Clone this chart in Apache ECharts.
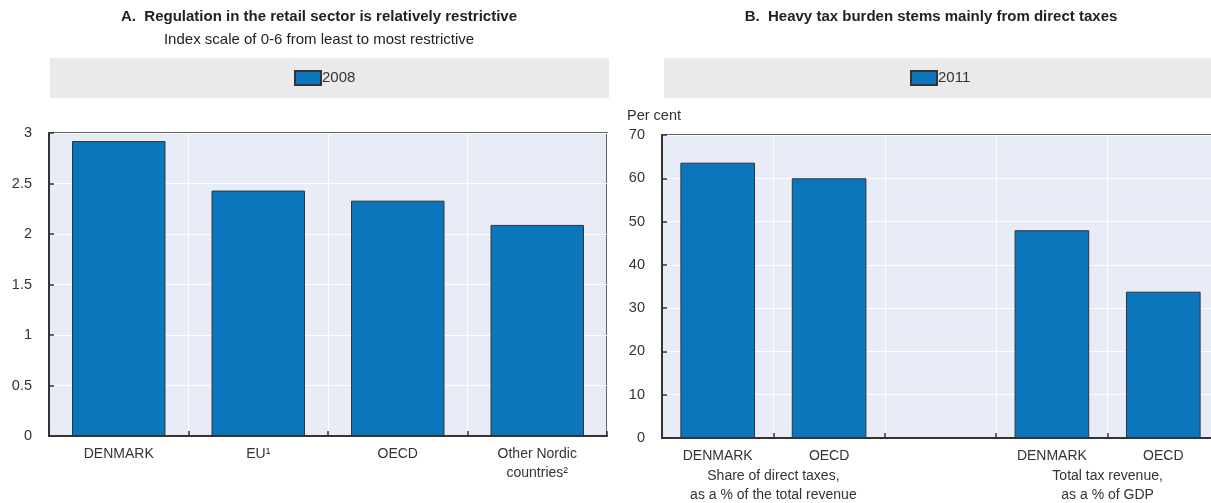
<!DOCTYPE html>
<html><head><meta charset="utf-8">
<script src="https://cdn.jsdelivr.net/npm/echarts@6/dist/echarts.min.js"></script>
<style>html,body{margin:0;padding:0;background:#fff}#c{width:1211px;height:503px}</style>
</head><body><div id="c"></div>
<script>
// Panel A data
const catsA = ['DENMARK', 'EU¹', 'OECD', 'Other Nordic\ncountries²'];
const valsA = [2.92, 2.43, 2.33, 2.09];
const ticksA = [0, 0.5, 1, 1.5, 2, 2.5, 3];
const seriesNameA = '2008';
// Panel B data
const catsB = ['DENMARK', 'OECD', '', 'DENMARK', 'OECD'];
const valsB = [63.6, 60.0, null, 48.0, 33.8];
const ticksB = [0, 10, 20, 30, 40, 50, 60, 70];
const seriesNameB = '2011';
const groupLabelsB = ['Share of direct taxes,\nas a % of the total revenue', 'Total tax revenue,\nas a % of GDP'];
const groupSpansB = [[0, 1], [3, 4]];

const FONT = '"Liberation Sans", Arial, sans-serif';
const NARROW = '"Liberation Sans Narrow", "Liberation Sans", Arial, sans-serif';
const TXT = '#333';
const BAR = '#0b76bc';
const PLOTBG = '#e8ecf6';
const AXIS = '#333';

const groupCenters = groupSpansB.map(s => (s[0] + s[1] + 1) / 2);

function catX(gi, data) {
  return {
    type: 'category', gridIndex: gi, data: data,
    axisLine: { lineStyle: { color: AXIS, width: 2 } },
    axisTick: { show: true, inside: true, length: 5, lineStyle: { color: AXIS, width: 1.5 } },
    axisLabel: { margin: 9, fontSize: 14, fontFamily: FONT, color: TXT, lineHeight: 19, interval: 0 },
    splitLine: { show: true, interval: 0, lineStyle: { color: '#ffffff', width: 1 } }
  };
}
function valY(gi, ticks) {
  return {
    type: 'value', gridIndex: gi, min: ticks[0], max: ticks[ticks.length - 1], interval: ticks[1] - ticks[0],
    axisLine: { show: true, lineStyle: { color: AXIS, width: 2 } },
    axisTick: { show: true, inside: true, length: 5, lineStyle: { color: AXIS, width: 1.5 } },
    axisLabel: { margin: 17, fontSize: 14.5, fontFamily: FONT, color: TXT },
    splitLine: { show: true, lineStyle: { color: '#ffffff', width: 1 } }
  };
}
function legendAt(name, left) {
  return {
    data: [name], left: left, top: 70, padding: 0, icon: 'rect',
    itemWidth: 26, itemHeight: 14,
    textStyle: { fontSize: 15, fontFamily: FONT, color: TXT, padding: [0, 0, 0, -4] }
  };
}

const option = {
  animation: false,
  backgroundColor: '#ffffff',
  title: [
    { text: 'A.  Regulation in the retail sector is relatively restrictive', left: 319, top: 9, textAlign: 'center', padding: 0,
      textStyle: { fontSize: 15, fontWeight: 'bold', fontFamily: NARROW, color: '#222' },
      subtext: 'Index scale of 0-6 from least to most restrictive', itemGap: 8,
      subtextStyle: { fontSize: 15, fontFamily: NARROW, color: '#222' } },
    { text: 'B.  Heavy tax burden stems mainly from direct taxes', left: 931, top: 9, textAlign: 'center', padding: 0,
      textStyle: { fontSize: 15, fontWeight: 'bold', fontFamily: NARROW, color: '#222' } },
    { text: 'Per cent', left: 627, top: 108, padding: 0,
      textStyle: { fontSize: 14.5, fontWeight: 'normal', fontFamily: FONT, color: TXT } }
  ],
  graphic: [
    { type: 'rect', z: -10, shape: { x: 50, y: 58, width: 559, height: 40 }, style: { fill: '#e9eaec' } },
    { type: 'rect', z: -10, shape: { x: 664, y: 58, width: 547, height: 40 }, style: { fill: '#e9eaec' } }
  ],
  legend: [legendAt(seriesNameA, 294), legendAt(seriesNameB, 910)],
  grid: [
    { left: 49, top: 133, width: 558, height: 303, show: true, backgroundColor: PLOTBG, borderColor: AXIS, borderWidth: 1.5,
      outerBoundsMode: 'none', containLabel: false },
    { left: 662, top: 135, width: 557, height: 303, show: true, backgroundColor: PLOTBG, borderColor: AXIS, borderWidth: 1.5,
      outerBoundsMode: 'none', containLabel: false }
  ],
  xAxis: [
    catX(0, catsA),
    catX(1, catsB),
    { type: 'value', gridIndex: 1, min: 0, max: catsB.length, interval: 1, position: 'bottom',
      axisLine: { show: false }, axisTick: { show: false }, splitLine: { show: false },
      axisLabel: { margin: 29, fontSize: 14, fontFamily: FONT, color: TXT, lineHeight: 19, showMinLabel: true, showMaxLabel: true,
        formatter: function (v) { const i = groupCenters.indexOf(v); return i >= 0 ? groupLabelsB[i] : ''; } } }
  ],
  yAxis: [valY(0, ticksA), valY(1, ticksB)],
  series: [
    { name: seriesNameA, type: 'bar', xAxisIndex: 0, yAxisIndex: 0, data: valsA, barWidth: '67%',
      itemStyle: { color: BAR, borderColor: AXIS, borderWidth: 1 } },
    { name: seriesNameB, type: 'bar', xAxisIndex: 1, yAxisIndex: 1, data: valsB, barWidth: '67%',
      itemStyle: { color: BAR, borderColor: AXIS, borderWidth: 1 } }
  ]
};
const chart = echarts.init(document.getElementById('c'), null, { renderer: 'canvas' });
chart.setOption(option);
</script></body></html>
